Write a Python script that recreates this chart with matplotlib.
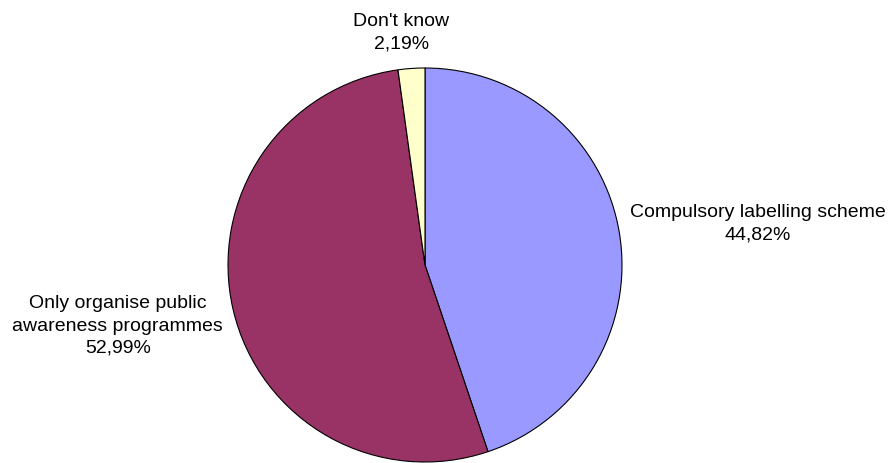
import matplotlib
matplotlib.use("Agg")
import matplotlib.pyplot as plt

labels = ["Compulsory labelling scheme", "Only organise public\nawareness programmes", "Don't know"]
shares = [44.82, 52.99, 2.19]
colors = ["#9999FF", "#993366", "#FFFFCC"]
# label centres in pie units (radius = 1)
label_pos = [(1.69, 0.21), (-1.56, -0.31), (-0.12, 1.18)]

fig = plt.figure(figsize=(8.94, 4.63), dpi=100)
W, H = 894, 463
cx, cy, r = 425, 265, 197
ax = fig.add_axes([(cx - r) / W, (H - cy - r) / H, 2 * r / W, 2 * r / H])

ax.pie(shares, colors=colors, startangle=90, counterclock=False, radius=1,
       wedgeprops=dict(edgecolor="black", linewidth=0.8))
ax.set_xlim(-1, 1)
ax.set_ylim(-1, 1)
ax.set_aspect("equal")
ax.axis("off")

for lab, val, (x, y) in zip(labels, shares, label_pos):
    txt = f"{lab}\n{val:.2f}%".replace(".", ",")
    ax.text(x, y, txt, ha="center", va="center", fontsize=14,
            family="Liberation Sans", linespacing=1.4, clip_on=False)

fig.savefig("out.png", dpi=100)
